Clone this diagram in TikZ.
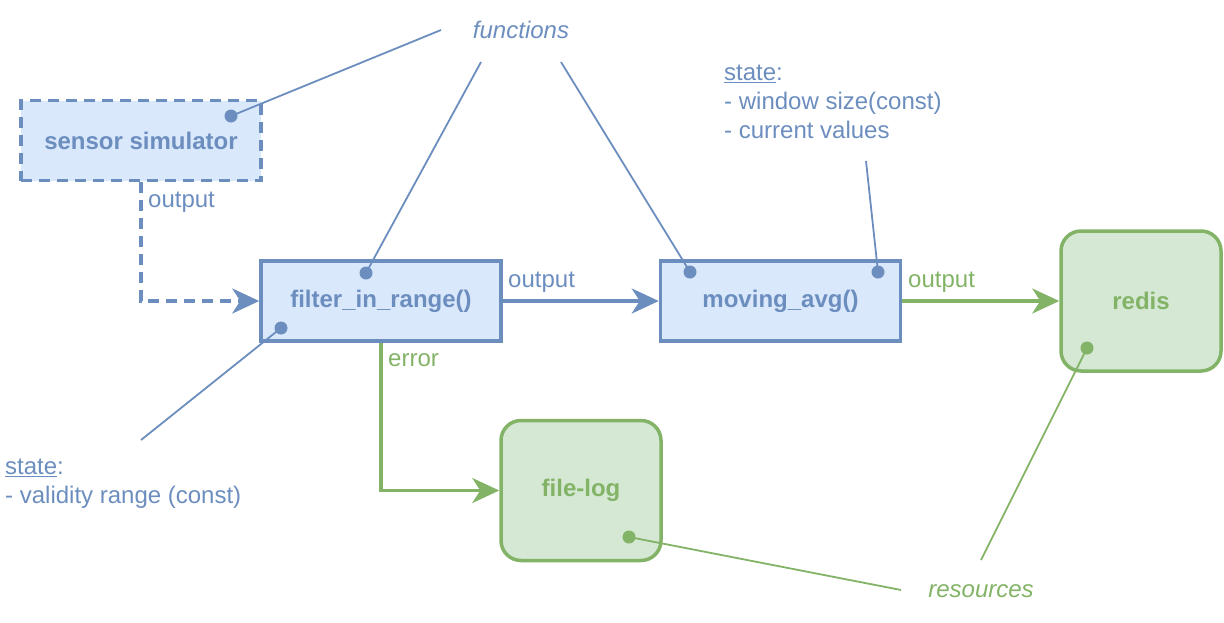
\documentclass[tikz,border=0pt]{standalone}
\usepackage{fontspec}
\setmainfont{Liberation Sans}
\usetikzlibrary{arrows.meta,calc}
\definecolor{bstroke}{HTML}{6C8EBF}
\definecolor{bfill}{HTML}{DAE8FC}
\definecolor{gstroke}{HTML}{82B366}
\definecolor{gfill}{HTML}{D5E8D4}
\begin{document}
\begin{tikzpicture}[x=1pt,y=-1pt,
  every node/.style={font=\fontsize{24}{28.8}\selectfont},
  fnbox/.style={draw=bstroke,fill=bfill,line width=3.5pt,minimum width=240pt,minimum height=80pt,text=bstroke,font=\fontsize{24}{28.8}\selectfont\bfseries,inner sep=0pt},
  resbox/.style={draw=gstroke,fill=gfill,line width=3.5pt,rounded corners=20pt,minimum width=160pt,minimum height=140pt,text=gstroke,font=\fontsize{24}{28.8}\selectfont\bfseries,inner sep=0pt},
  btxt/.style={text=bstroke,inner sep=0pt},
  gtxt/.style={text=gstroke,inner sep=0pt},
  bdot/.style={circle,fill=bstroke,inner sep=0pt,minimum size=13pt},
  gdot/.style={circle,fill=gstroke,inner sep=0pt,minimum size=13pt},
  thinb/.style={draw=bstroke,line width=1.8pt},
  thing/.style={draw=gstroke,line width=1.8pt},
  flow/.style={line width=3.5pt,-{Stealth[length=27pt,width=25pt,inset=8pt]}},
]
\useasboundingbox (0,0) rectangle (1224,622);

% boxes
\node[fnbox,dash pattern=on 11pt off 7pt] (sensor) at (141,140.5) {sensor simulator};
\node[fnbox] (filter) at (381,301) {filter\_in\_range()};
\node[fnbox] (moving) at (780.5,301) {moving\_avg()};
\node[resbox] (redis) at (1141,301) {redis};
\node[resbox] (filelog) at (581,490.5) {file-log};

% dots
\node[bdot] (dsensor) at (231,116) {};
\node[bdot] (dfiltertop) at (366,273) {};
\node[bdot] (dfilterbot) at (281,328) {};
\node[bdot] (dmovl) at (690,272) {};
\node[bdot] (dmovr) at (878,272) {};
\node[gdot] (dredis) at (1087,348) {};
\node[gdot] (dlog) at (629,537) {};

% labels
\node[btxt,anchor=base,font=\fontsize{24}{28.8}\selectfont\itshape] (functions) at (521,38) {functions};
\node[gtxt,anchor=base,font=\fontsize{24}{28.8}\selectfont\itshape] (resources) at (981,597) {resources};

\node[btxt,anchor=base west] (st1a) at (724,80.5) {\underline{state}:};
\node[btxt,anchor=base west] (st1b) at (724,109.5) {- window size(const)};
\node[btxt,anchor=base west] (st1c) at (724,138.5) {- current values};

\node[btxt,anchor=base west] (st2a) at (5,474.5) {\underline{state}:};
\node[btxt,anchor=base west] (st2b) at (5,503.5) {- validity range (const)};

% free ends of annotation lines
\coordinate (fA) at (441,30);
\coordinate (fB) at (481,62);
\coordinate (fC) at (561,62);
\coordinate (sA) at (866,161);
\coordinate (sB) at (141,440);
\coordinate (rA) at (981,560);
\coordinate (rB) at (901,590);

\draw[thinb] (dsensor.center) -- (fA);
\draw[thinb] (dfiltertop.center) -- (fB);
\draw[thinb] (dmovl.center) -- (fC);
\draw[thinb] (dmovr.center) -- (sA);
\draw[thinb] (dfilterbot.center) -- (sB);
\draw[thing] (dredis.center) -- (rA);
\draw[thing] (dlog.center) -- (rB);

% flows
\draw[flow,draw=bstroke,dash pattern=on 11pt off 7pt] (sensor.south) |- (filter.west);
\node[btxt,anchor=base west] (o1) at (148,207.5) {output};

\draw[flow,draw=bstroke] (filter.east) -- (moving.west);
\node[btxt,anchor=base west] (o2) at (508,287.5) {output};

\draw[flow,draw=gstroke] (moving.east) -- (redis.west);
\node[gtxt,anchor=base west] (o3) at (908,287.5) {output};

\draw[flow,draw=gstroke] (filter.south) |- (filelog.west);
\node[gtxt,anchor=base west] (err) at (388,366.5) {error};
\end{tikzpicture}
\end{document}
